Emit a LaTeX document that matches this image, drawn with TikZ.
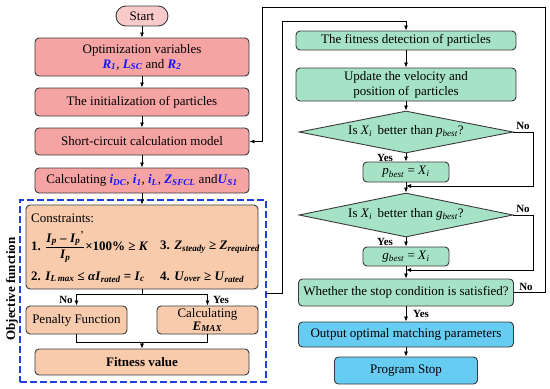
\documentclass[tikz,border=0pt]{standalone}
\usepackage{fontspec}
\setmainfont{Liberation Serif}
\usetikzlibrary{arrows.meta,shapes.geometric}
\definecolor{pinkf}{HTML}{F5A3A3}
\definecolor{startf}{HTML}{F9CACA}
\definecolor{peach}{HTML}{F8CBAD}
\definecolor{mint}{HTML}{A6E3C6}
\definecolor{sky}{HTML}{66CCF2}
\definecolor{mblue}{HTML}{1414FF}
\definecolor{dashblue}{HTML}{1F3FE0}
\definecolor{edge}{HTML}{3A3A3A}
\newcommand{\bvar}[2]{\textcolor{mblue}{\textbf{\textit{#1}}\textsubscript{\textbf{\textit{#2}}}}}
\newcommand{\bk}[2]{\textbf{\textit{#1}}\textsubscript{\textbf{\textit{#2}}}}
\newcommand{\iv}[2]{\textit{#1}\textsubscript{\textit{#2}}}
\newcommand{\ipprime}{\textbf{\textit{I}}\textsubscript{\textbf{\textit{p}}}\textsuperscript{\textbf{'}}}
\tikzset{
  base/.style={draw=edge, line width=0.9pt, rounded corners=4pt, inner sep=0pt, align=center,
    font=\fontsize{13}{15}\selectfont},
  pinkbox/.style={base, fill=pinkf},
  startbox/.style={base, fill=startf, rounded corners=10pt},
  peachbox/.style={base, fill=peach},
  mintbox/.style={base, fill=mint},
  skybox/.style={base, fill=sky},
  mintdia/.style={draw=edge, line width=0.9pt, fill=mint, shape=diamond, inner sep=0pt},
  arr/.style={-{Latex[length=5pt,width=4pt]}, line width=0.8pt},
  ln/.style={line width=0.8pt},
  yn/.style={font=\fontsize{11}{12}\selectfont\bfseries, inner sep=0pt},
  txt/.style={font=\fontsize{13}{15}\selectfont, inner sep=0pt, align=center},
}
\begin{document}
\begin{tikzpicture}[x=1pt,y=-1pt]
\useasboundingbox (0,0) rectangle (550,389);
% left column
\node[startbox, minimum width=52pt, minimum height=20pt] (start) at (142,16) {Start};
\node[pinkbox, minimum width=214pt, minimum height=38pt] (opt) at (142,57)
  {Optimization variables\\ \bvar{R}{1}, \bvar{L}{SC} and \bvar{R}{2}};
\node[pinkbox, minimum width=214pt, minimum height=28pt] (init) at (142,102) {The initialization of particles};
\node[pinkbox, minimum width=214pt, minimum height=27pt] (sc) at (142,141.5) {Short-circuit calculation model};
\node[pinkbox, minimum width=214pt, minimum height=25pt] (calc) at (142,180.5)
  {Calculating \bvar{i}{DC}, \bvar{i}{1}, \bvar{i}{L}, \bvar{Z}{SFCL} and\bvar{U}{S1}};
% objective function frame
\node[draw=dashblue, dash pattern=on 7pt off 3pt, line width=1.3pt, minimum width=246pt, minimum height=182pt, inner sep=0pt] (ofbox) at (143,291) {};
\node[txt, rotate=90, font=\fontsize{13}{15}\selectfont\bfseries] (objlab) at (12,289) {Objective function};
\node[peachbox, minimum width=232pt, minimum height=84pt] (cons) at (142,247) {};
\node[txt, anchor=west] (ct) at (31,218) {Constraints:};
\node[txt, anchor=west] (c1) at (31,247)
  {\textbf{1.} $\displaystyle\frac{\hbox{\bk{I}{p} \textbf{–} \ipprime}}{\hbox{\bk{I}{p}}}$\textbf{×100\% ≥ \textit{K}}};
\node[txt, anchor=west] (c3) at (160,247) {\textbf{3.} \bk{Z}{steady} \textbf{≥} \bk{Z}{required}};
\node[txt, anchor=west] (c2) at (31,277) {\textbf{2.} \bk{I}{L\,max} \textbf{≤} \textbf{\textit{α}}\bk{I}{rated} \textbf{=} \bk{I}{c}};
\node[txt, anchor=west] (c4) at (160,277) {\textbf{4.} \bk{U}{over} \textbf{≥} \bk{U}{rated}};
\node[peachbox, minimum width=101pt, minimum height=28pt] (pen) at (76.5,320) {Penalty Function};
\node[peachbox, minimum width=101pt, minimum height=28pt, font=\fontsize{13}{13}\selectfont] (emax) at (207.5,320) {Calculating\\ \bk{E}{MAX}};
\node[peachbox, minimum width=214pt, minimum height=26pt, font=\fontsize{13}{15}\selectfont\bfseries] (fit) at (142,362) {Fitness value};
% right column
\node[mintbox, minimum width=220pt, minimum height=19pt] (fd) at (406,40.5) {The fitness detection of particles};
\node[mintbox, minimum width=220pt, minimum height=33pt] (upd) at (406,84.5) {Update the velocity and\\ position of\, particles};
\node[mintdia, minimum width=214pt, minimum height=42pt] (d1) at (406,132) {};
\node[txt] (d1t) at (406,131) {Is \iv{X}{i}\, better than \iv{p}{best}?};
\node[mintbox, minimum width=86pt, minimum height=20pt] (pb) at (406,172) {\iv{p}{best} = \iv{X}{i}};
\node[mintdia, minimum width=214pt, minimum height=44pt] (d2) at (406,215) {};
\node[txt] (d2t) at (406,214) {Is \iv{X}{i}\, better than \iv{g}{best}?};
\node[mintbox, minimum width=86pt, minimum height=19pt] (gb) at (406,256.5) {\iv{g}{best} = \iv{X}{i}};
\node[mintbox, minimum width=215pt, minimum height=27pt] (ws) at (406,292.5) {Whether the stop condition is satisfied?};
\node[skybox, minimum width=215pt, minimum height=25pt] (out) at (406,334.5) {Output optimal matching parameters};
\node[skybox, minimum width=143pt, minimum height=27pt] (ps) at (406,370.5) {Program Stop};
% coordinates
\coordinate (j1) at (142,294);
\coordinate (j2) at (142,342);
\coordinate (q1) at (282,293);
\coordinate (q2) at (282,21);
\coordinate (r1) at (545,7);
\coordinate (r2) at (262,7);
\coordinate (s1) at (533,186);
\coordinate (s2) at (533,270);
% left connectors
\draw[arr] (start) -- (opt);
\draw[arr] (opt) -- (init);
\draw[arr] (init) -- (sc);
\draw[arr] (sc) -- (calc);
\draw[arr] (calc) -- (cons);
\draw[ln] (cons.south) -- (j1);
\draw[arr] (j1) -| (pen.north);
\draw[arr] (j1) -| (emax.north);
\draw[ln] (pen.south) |- (j2);
\draw[ln] (emax.south) |- (j2);
\draw[arr] (j2) -- (fit.north);
\node[yn] (no0) at (66,300) {No};
\node[yn] (yes0) at (221,300) {Yes};
% loop from objective function
\draw[arr] (ofbox.east |- q1) -- (q1) -- (q2) -| (fd.north);
% right connectors
\draw[arr] (fd) -- (upd);
\draw[arr] (upd) -- (d1.north);
\draw[arr] (d1.south) -- (pb.north);
\draw[arr] (pb.south) -- (d2.north);
\draw[arr] (d1.east) -| (s1) -- (s1 -| d1.south);
\draw[arr] (d2.south) -- (gb.north);
\draw[arr] (gb.south) -- (ws.north);
\draw[arr] (d2.east) -| (s2) -- (s2 -| d2.south);
\draw[arr] (ws) -- (out);
\draw[arr] (out) -- (ps);
\draw[arr] (ws.east) -- (ws.east -| r1) -- (r1) -- (r2) -- (r2 |- sc.east) -- (sc.east);
\node[yn] (no1) at (523,126) {No};
\node[yn] (yes1) at (385,158) {Yes};
\node[yn] (no2) at (523,209) {No};
\node[yn] (yes2) at (385,242) {Yes};
\node[yn] (no3) at (526,287) {No};
\node[yn] (yes3) at (421,314) {Yes};
\end{tikzpicture}
\end{document}
